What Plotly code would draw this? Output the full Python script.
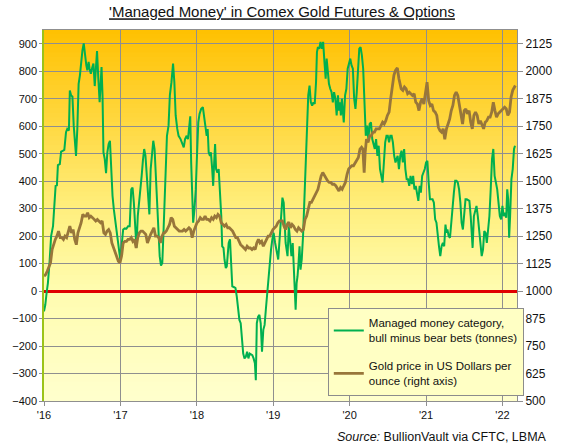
import plotly.graph_objects as go

# Managed money net position (tonnes)
mm_year = [
    2016.000, 2016.017, 2016.034, 2016.051, 2016.072, 2016.093, 2016.118, 2016.135, 2016.152, 2016.169,
    2016.182, 2016.207, 2016.224, 2016.250, 2016.266, 2016.288, 2016.305, 2016.326, 2016.338, 2016.355,
    2016.372, 2016.389, 2016.406, 2016.419, 2016.436, 2016.453, 2016.470, 2016.486, 2016.503, 2016.520,
    2016.537, 2016.554, 2016.567, 2016.584, 2016.596, 2016.613, 2016.630, 2016.647, 2016.664, 2016.681,
    2016.694, 2016.711, 2016.728, 2016.740, 2016.753, 2016.766, 2016.778, 2016.795, 2016.812, 2016.829,
    2016.846, 2016.863, 2016.880, 2016.897, 2016.914, 2016.931, 2016.948, 2016.964, 2016.981, 2016.998,
    2017.015, 2017.036, 2017.058, 2017.079, 2017.100, 2017.121, 2017.142, 2017.159, 2017.176, 2017.193,
    2017.210, 2017.227, 2017.244, 2017.261, 2017.278, 2017.294, 2017.311, 2017.328, 2017.345, 2017.362,
    2017.379, 2017.396, 2017.413, 2017.430, 2017.447, 2017.464, 2017.481, 2017.497, 2017.514, 2017.531,
    2017.548, 2017.565, 2017.582, 2017.592, 2017.609, 2017.630, 2017.647, 2017.668, 2017.689, 2017.706,
    2017.723, 2017.744, 2017.761, 2017.787, 2017.812, 2017.829, 2017.846, 2017.867, 2017.884, 2017.901,
    2017.914, 2017.926, 2017.939, 2017.952, 2017.969, 2017.986, 2018.002, 2018.019, 2018.036, 2018.057,
    2018.079, 2018.096, 2018.112, 2018.129, 2018.142, 2018.155, 2018.172, 2018.184, 2018.201, 2018.214,
    2018.227, 2018.239, 2018.252, 2018.269, 2018.286, 2018.303, 2018.320, 2018.332, 2018.349, 2018.362,
    2018.379, 2018.392, 2018.404, 2018.417, 2018.434, 2018.447, 2018.464, 2018.489, 2018.506, 2018.523,
    2018.540, 2018.557, 2018.574, 2018.590, 2018.607, 2018.624, 2018.641, 2018.658, 2018.675, 2018.692,
    2018.709, 2018.726, 2018.743, 2018.760, 2018.772, 2018.785, 2018.802, 2018.819, 2018.836, 2018.853,
    2018.870, 2018.887, 2018.903, 2018.920, 2018.937, 2018.954, 2018.971, 2018.988, 2019.005, 2019.025,
    2019.045, 2019.065, 2019.086, 2019.103, 2019.120, 2019.137, 2019.149, 2019.162, 2019.175, 2019.187,
    2019.204, 2019.221, 2019.238, 2019.255, 2019.268, 2019.280, 2019.293, 2019.306, 2019.318, 2019.331,
    2019.344, 2019.357, 2019.373, 2019.390, 2019.407, 2019.424, 2019.441, 2019.458, 2019.475, 2019.492,
    2019.509, 2019.526, 2019.543, 2019.560, 2019.572, 2019.585, 2019.602, 2019.619, 2019.636, 2019.653,
    2019.670, 2019.686, 2019.699, 2019.712, 2019.729, 2019.746, 2019.763, 2019.780, 2019.796, 2019.813,
    2019.830, 2019.847, 2019.860, 2019.873, 2019.885, 2019.898, 2019.911, 2019.923, 2019.940, 2019.957,
    2019.974, 2019.991, 2020.008, 2020.025, 2020.042, 2020.059, 2020.076, 2020.093, 2020.109, 2020.126,
    2020.143, 2020.160, 2020.177, 2020.194, 2020.211, 2020.228, 2020.245, 2020.262, 2020.279, 2020.296,
    2020.313, 2020.329, 2020.346, 2020.363, 2020.380, 2020.397, 2020.414, 2020.431, 2020.448, 2020.465,
    2020.482, 2020.499, 2020.516, 2020.532, 2020.549, 2020.566, 2020.583, 2020.600, 2020.628, 2020.645,
    2020.662, 2020.679, 2020.696, 2020.713, 2020.729, 2020.746, 2020.763, 2020.780, 2020.797, 2020.814,
    2020.831, 2020.848, 2020.865, 2020.882, 2020.899, 2020.916, 2020.932, 2020.949, 2020.966, 2020.983,
    2021.000, 2021.017, 2021.034, 2021.051, 2021.068, 2021.085, 2021.102, 2021.119, 2021.136, 2021.152,
    2021.169, 2021.186, 2021.203, 2021.220, 2021.237, 2021.254, 2021.267, 2021.279, 2021.296, 2021.313,
    2021.330, 2021.347, 2021.364, 2021.381, 2021.398, 2021.415, 2021.432, 2021.449, 2021.465, 2021.482,
    2021.499, 2021.516, 2021.533, 2021.550, 2021.567, 2021.584, 2021.597, 2021.609, 2021.626, 2021.643,
    2021.660, 2021.677, 2021.694, 2021.711, 2021.728, 2021.745, 2021.762, 2021.779, 2021.795, 2021.812,
    2021.829, 2021.846, 2021.863, 2021.880, 2021.897, 2021.914, 2021.931, 2021.948, 2021.965, 2021.982,
    2021.999, 2022.015, 2022.032, 2022.049, 2022.062, 2022.075, 2022.087, 2022.100, 2022.117, 2022.134,
    2022.151, 2022.164,
]
mm_tonnes = [
    -74, -50, -7, 29, 102, 200, 236, 297, 383, 385,
    458, 462, 507, 511, 514, 578, 590, 584, 730, 712,
    708, 602, 529, 492, 590, 754, 785, 846, 876, 901,
    846, 821, 803, 834, 809, 791, 812, 828, 746, 821,
    873, 773, 687, 748, 815, 712, 505, 480, 429, 505,
    535, 547, 419, 346, 297, 261, 224, 175, 145, 115,
    163, 224, 228, 227, 236, 236, 370, 377, 322, 224,
    157, 273, 322, 346, 419, 474, 517, 492, 419, 346,
    279, 444, 492, 547, 517, 419, 322, 224, 127, 93,
    102, 224, 383, 419, 565, 602, 712, 760, 828, 760,
    639, 590, 565, 553, 535, 523, 553, 565, 553, 590,
    636, 468, 322, 249, 297, 370, 492, 614, 645, 663,
    669, 626, 584, 565, 590, 505, 492, 505, 444, 383,
    468, 535, 444, 431, 444, 370, 273, 163, 157, 115,
    84, 90, 151, 175, 188, 127, 17, 14, 11, -20,
    -68, -105, -117, -190, -227, -245, -239, -221, -245, -227,
    -229, -233, -245, -263, -324, -117, -93, -87, -117, -221,
    -141, -123, -68, -7, 41, 90, 151, 188, 212, 175,
    140, 115, 200, 273, 340, 322, 224, 175, 151, 127,
    236, 163, 127, 175, 102, -7, -68, 29, 54, 102,
    163, 78, 115, 200, 322, 444, 590, 712, 748, 687,
    675, 687, 681, 760, 870, 888, 882, 907, 882, 907,
    834, 773, 846, 809, 754, 736, 724, 687, 724, 700,
    639, 712, 657, 687, 639, 700, 651, 614, 712, 736,
    809, 834, 846, 821, 809, 700, 663, 724, 821, 882,
    888, 858, 809, 712, 565, 602, 553, 608, 614, 553,
    535, 517, 553, 492, 529, 444, 419, 395, 468, 541,
    565, 565, 541, 565, 565, 541, 492, 468, 492, 444,
    492, 511, 468, 517, 444, 407, 407, 383, 419, 389,
    419, 370, 383, 346, 328, 383, 358, 419, 431, 444,
    468, 474, 395, 334, 334, 334, 322, 261, 249, 200,
    163, 127, 163, 175, 163, 242, 212, 224, 200, 194,
    261, 322, 358, 401, 401, 395, 370, 322, 249, 224,
    273, 334, 334, 331, 328, 273, 224, 157, 273, 297,
    310, 273, 224, 175, 127, 151, 218, 212, 175, 224,
    273, 370, 480, 517, 419, 395, 370, 322, 273, 261,
    310, 273, 285, 267, 370, 334, 194, 273, 407, 444,
    517, 529,
]

# Gold price, US$ per ounce (right axis)
gold_year = [
    2016.000, 2016.021, 2016.042, 2016.063, 2016.085, 2016.106, 2016.127, 2016.148, 2016.169, 2016.190,
    2016.212, 2016.233, 2016.254, 2016.275, 2016.296, 2016.317, 2016.338, 2016.360, 2016.381, 2016.402,
    2016.423, 2016.444, 2016.465, 2016.486, 2016.508, 2016.529, 2016.550, 2016.571, 2016.592, 2016.613,
    2016.635, 2016.656, 2016.677, 2016.698, 2016.719, 2016.740, 2016.761, 2016.783, 2016.804, 2016.825,
    2016.846, 2016.867, 2016.888, 2016.909, 2016.931, 2016.952, 2016.973, 2016.994, 2017.015, 2017.036,
    2017.058, 2017.079, 2017.100, 2017.121, 2017.142, 2017.163, 2017.184, 2017.206, 2017.227, 2017.248,
    2017.269, 2017.290, 2017.311, 2017.332, 2017.354, 2017.375, 2017.396, 2017.417, 2017.438, 2017.459,
    2017.481, 2017.502, 2017.523, 2017.544, 2017.565, 2017.579, 2017.601, 2017.622, 2017.643, 2017.664,
    2017.685, 2017.706, 2017.728, 2017.749, 2017.770, 2017.791, 2017.812, 2017.833, 2017.854, 2017.876,
    2017.897, 2017.918, 2017.939, 2017.960, 2017.981, 2018.002, 2018.024, 2018.045, 2018.066, 2018.087,
    2018.108, 2018.129, 2018.150, 2018.172, 2018.193, 2018.214, 2018.235, 2018.256, 2018.277, 2018.299,
    2018.320, 2018.341, 2018.362, 2018.383, 2018.404, 2018.425, 2018.447, 2018.468, 2018.489, 2018.510,
    2018.531, 2018.552, 2018.573, 2018.595, 2018.616, 2018.637, 2018.658, 2018.679, 2018.700, 2018.722,
    2018.743, 2018.764, 2018.785, 2018.806, 2018.827, 2018.848, 2018.870, 2018.891, 2018.912, 2018.933,
    2018.954, 2018.975, 2018.996, 2019.018, 2019.039, 2019.060, 2019.081, 2019.102, 2019.120, 2019.141,
    2019.162, 2019.183, 2019.204, 2019.225, 2019.247, 2019.268, 2019.289, 2019.310, 2019.331, 2019.352,
    2019.373, 2019.395, 2019.416, 2019.437, 2019.458, 2019.479, 2019.500, 2019.521, 2019.543, 2019.564,
    2019.585, 2019.606, 2019.627, 2019.648, 2019.670, 2019.691, 2019.712, 2019.733, 2019.754, 2019.775,
    2019.796, 2019.818, 2019.839, 2019.860, 2019.881, 2019.902, 2019.923, 2019.944, 2019.966, 2019.987,
    2020.008, 2020.029, 2020.050, 2020.071, 2020.093, 2020.114, 2020.135, 2020.156, 2020.173, 2020.190,
    2020.203, 2020.220, 2020.241, 2020.262, 2020.283, 2020.304, 2020.325, 2020.346, 2020.368, 2020.389,
    2020.410, 2020.431, 2020.452, 2020.473, 2020.494, 2020.516, 2020.537, 2020.558, 2020.579, 2020.600,
    2020.624, 2020.645, 2020.662, 2020.674, 2020.696, 2020.717, 2020.738, 2020.759, 2020.780, 2020.801,
    2020.822, 2020.844, 2020.865, 2020.886, 2020.907, 2020.928, 2020.949, 2020.971, 2020.992, 2021.013,
    2021.034, 2021.055, 2021.076, 2021.097, 2021.119, 2021.140, 2021.161, 2021.182, 2021.203, 2021.224,
    2021.245, 2021.267, 2021.288, 2021.309, 2021.330, 2021.351, 2021.372, 2021.394, 2021.415, 2021.436,
    2021.457, 2021.478, 2021.499, 2021.520, 2021.541, 2021.563, 2021.584, 2021.605, 2021.626, 2021.647,
    2021.669, 2021.690, 2021.711, 2021.732, 2021.753, 2021.774, 2021.795, 2021.817, 2021.838, 2021.859,
    2021.880, 2021.901, 2021.922, 2021.943, 2021.965, 2021.986, 2022.007, 2022.028, 2022.049, 2022.070,
    2022.092, 2022.113, 2022.134, 2022.155, 2022.168,
]
gold_usd = [
    1068, 1075, 1090, 1105, 1128, 1189, 1219, 1235, 1250, 1273,
    1243, 1243, 1235, 1250, 1243, 1265, 1295, 1265, 1280, 1235,
    1211, 1265, 1288, 1311, 1349, 1341, 1341, 1356, 1334, 1341,
    1334, 1326, 1319, 1326, 1319, 1311, 1319, 1265, 1258, 1273,
    1280, 1265, 1219, 1196, 1181, 1159, 1136, 1128, 1159, 1219,
    1226, 1226, 1235, 1235, 1243, 1226, 1235, 1196, 1243, 1265,
    1273, 1273, 1265, 1258, 1219, 1243, 1258, 1273, 1288, 1250,
    1250, 1243, 1219, 1250, 1265, 1265, 1273, 1288, 1303, 1334,
    1326, 1295, 1288, 1280, 1273, 1273, 1273, 1280, 1273, 1280,
    1288, 1280, 1243, 1273, 1295, 1311, 1319, 1334, 1326, 1326,
    1341, 1326, 1326, 1319, 1334, 1326, 1341, 1334, 1349, 1341,
    1311, 1303, 1295, 1303, 1288, 1288, 1280, 1273, 1258, 1243,
    1243, 1226, 1211, 1204, 1196, 1189, 1204, 1196, 1196, 1189,
    1196, 1189, 1219, 1235, 1219, 1226, 1204, 1219, 1235, 1250,
    1250, 1265, 1280, 1288, 1295, 1311, 1319, 1319, 1319, 1295,
    1280, 1303, 1314, 1288, 1303, 1295, 1280, 1273, 1288, 1280,
    1273, 1280, 1326, 1341, 1371, 1403, 1403, 1418, 1433, 1448,
    1463, 1494, 1524, 1539, 1524, 1509, 1501, 1494, 1494, 1486,
    1486, 1479, 1463, 1455, 1471, 1463, 1479, 1494, 1531, 1555,
    1563, 1570, 1570, 1585, 1593, 1608, 1646, 1654, 1646, 1539,
    1631, 1691, 1676, 1706, 1706, 1723, 1723, 1738, 1738, 1738,
    1753, 1768, 1760, 1775, 1799, 1814, 1875, 1935, 1981, 2004,
    2015, 1966, 1935, 1920, 1913, 1928, 1920, 1898, 1905, 1898,
    1890, 1898, 1859, 1851, 1821, 1859, 1875, 1851, 1905, 1950,
    1866, 1844, 1851, 1821, 1814, 1799, 1745, 1730, 1723, 1738,
    1691, 1738, 1760, 1783, 1821, 1844, 1890, 1905, 1890, 1851,
    1799, 1760, 1821, 1829, 1806, 1821, 1768, 1738, 1799, 1814,
    1799, 1760, 1775, 1753, 1738, 1768, 1775, 1791, 1791, 1814,
    1859, 1821, 1791, 1806, 1814, 1821, 1829, 1836, 1829, 1799,
    1814, 1883, 1913, 1928, 1935,
]

year_ticks = [2016, 2017, 2018, 2019, 2020, 2021, 2022]
year_labels = ["'16", "'17", "'18", "'19", "'20", "'21", "'22"]
mm_ticks = list(range(-400, 901, 100))
usd_ticks = list(range(500, 2126, 125))

FONT = "Arial, Liberation Sans, sans-serif"
GRID = "#8f8f8f"

fig = go.Figure()
fig.add_trace(go.Scatter(
    x=mm_year, y=mm_tonnes, mode="lines", yaxis="y",
    name="Managed money category,<br>bull minus bear bets (tonnes)",
    line=dict(color="#00b050", width=2), legendgroup="a"))
fig.add_trace(go.Scatter(
    x=gold_year, y=gold_usd, mode="lines", yaxis="y2",
    name="Gold price in US Dollars per<br>ounce (right axis)",
    line=dict(color="#98763a", width=2.8), legendgroup="b"))

# orange -> pale yellow gradient behind the plot
stops = [(0.0, (255, 192, 0)), (0.25, (255, 216, 64)), (0.5, (255, 240, 130)),
         (0.7, (255, 252, 175)), (1.0, (255, 255, 205))]
def grad(f):
    for (a, ca), (b, cb) in zip(stops, stops[1:]):
        if a <= f <= b:
            k = (f - a) / (b - a)
            return "rgb(%d,%d,%d)" % tuple(round(ca[i] + (cb[i] - ca[i]) * k) for i in range(3))
    return "rgb(255,255,205)"

n = 80
shapes = []
for i in range(n):
    f = i / n
    shapes.append(dict(type="rect", xref="paper", yref="paper", x0=0, x1=1,
                       y0=1 - (i + 1) / n, y1=1 - i / n + 0.002, layer="below",
                       line=dict(width=0), fillcolor=grad(f + 0.5 / n)))

fig.update_layout(
    width=564, height=447,
    margin=dict(l=36, r=40, t=30, b=46),
    paper_bgcolor="white", plot_bgcolor="rgb(255,255,205)",
    font=dict(family=FONT, size=11, color="#111"),
    shapes=shapes,
    title=dict(text="<u>'Managed Money' in Comex Gold Futures & Options</u>",
               x=0.5, xanchor="center", y=0.973, yanchor="middle",
               font=dict(family=FONT, size=15, color="#111")),
    xaxis=dict(range=[2016, 2022.19], tickvals=year_ticks, ticktext=year_labels,
               showgrid=True, gridcolor=GRID, gridwidth=1,
               showline=True, linecolor=GRID, linewidth=1, mirror=True,
               ticks="outside", ticklen=4, tickcolor=GRID, zeroline=False),
    yaxis=dict(range=[-400, 950], tickvals=mm_ticks,
               showgrid=True, gridcolor=GRID, gridwidth=1,
               showline=True, linecolor="#9bc31a", linewidth=1.5,
               ticks="outside", ticklen=3, tickcolor=GRID,
               zeroline=True, zerolinecolor="#e00000", zerolinewidth=3),
    yaxis2=dict(range=[500, 2187.5], tickvals=usd_ticks, overlaying="y", side="right",
                showgrid=False, showline=True, linecolor=GRID, linewidth=1,
                ticks="outside", ticklen=5, tickcolor=GRID, zeroline=False,
                tickfont=dict(size=12)),
    legend=dict(x=0.600, y=0.2507, xanchor="left", yanchor="top",
                bgcolor="#ffffc4", bordercolor="#8c8c8c", borderwidth=1,
                font=dict(family=FONT, size=11.5, color="#111"),
                tracegroupgap=10, itemwidth=30),
    showlegend=True,
    annotations=[dict(text="<i>Source:</i> BullionVault via CFTC, LBMA",
                      xref="paper", yref="paper", x=1.0676, y=-0.097,
                      xanchor="right", yanchor="middle", showarrow=False,
                      font=dict(family=FONT, size=12.5, color="#111"))],
)

# drop the browser's default body margin so the figure sits at the page corner
fig.write_html("out.html", config={"displayModeBar": False},
               post_script="document.body.style.margin='0';")
